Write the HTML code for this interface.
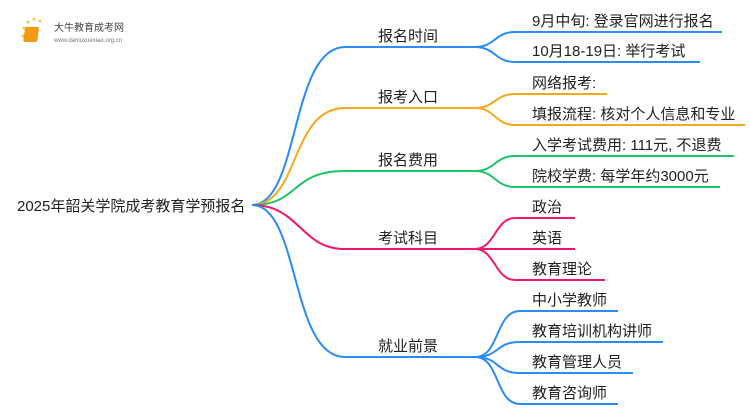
<!DOCTYPE html>
<html><head><meta charset="utf-8"><style>
html,body{margin:0;padding:0;background:#fff;width:750px;height:410px;overflow:hidden}
svg text{font-family:"Liberation Sans","Noto Sans CJK SC",sans-serif;font-size:15px;fill:#222}
</style></head><body>
<svg width="750" height="410" viewBox="0 0 750 410" xmlns="http://www.w3.org/2000/svg">
<g fill="none" stroke-width="2">
<g stroke="#2a8cf5">
<path d="M252 205 C300 205 290 47 345 47 L475 47"/>
<path d="M475 47 C495 47 495 32 515 32 L722 32"/>
<path d="M475 47 C495 47 495 62 515 62 L700 62"/>
</g>
<g stroke="#f5a81c">
<path d="M252 205 C300 205 290 108 345 108 L475 108"/>
<path d="M475 108 C495 108 495 94 515 94 L607 94"/>
<path d="M475 108 C495 108 495 125 515 125 L745 125"/>
</g>
<g stroke="#1dc46a">
<path d="M252 205 C300 205 290 171 345 171 L475 171"/>
<path d="M475 171 C495 171 495 156 515 156 L734 156"/>
<path d="M475 171 C495 171 495 187 515 187 L720 187"/>
</g>
<g stroke="#f0186e">
<path d="M252 205 C300 205 300 249 345 249 L475 249"/>
<path d="M475 249 C495 249 495 218 515 218 L575 218"/>
<path d="M475 249 L575 249"/>
<path d="M475 249 C495 249 495 280 515 280 L605 280"/>
</g>
<g stroke="#2a8cf5">
<path d="M252 205 C300 205 290 357 345 357 L475 357"/>
<path d="M475 357 C500 357 495 311 520 311 L618 311"/>
<path d="M475 357 C500 357 495 342 520 342 L663 342"/>
<path d="M475 357 C500 357 495 373 520 373 L633 373"/>
<path d="M475 357 C500 357 495 404 520 404 L618 404"/>
</g>
</g>
<text x="17" y="211">2025年韶关学院成考教育学预报名</text>
<text x="378" y="41">报名时间</text>
<text x="378" y="102">报考入口</text>
<text x="378" y="165">报名费用</text>
<text x="378" y="243">考试科目</text>
<text x="378" y="351">就业前景</text>
<text x="532" y="26">9月中旬: 登录官网进行报名</text>
<text x="532" y="56">10月18-19日: 举行考试</text>
<text x="532" y="88">网络报考:</text>
<text x="532" y="119">填报流程: 核对个人信息和专业</text>
<text x="532" y="150">入学考试费用: 111元, 不退费</text>
<text x="532" y="181">院校学费: 每学年约3000元</text>
<text x="532" y="212">政治</text>
<text x="532" y="243">英语</text>
<text x="532" y="274">教育理论</text>
<text x="532" y="305">中小学教师</text>
<text x="532" y="336">教育培训机构讲师</text>
<text x="532" y="367">教育管理人员</text>
<text x="532" y="398">教育咨询师</text>
<g>
<circle cx="24" cy="28" r="1.5" fill="#f7c84a"/><circle cx="28" cy="22" r="1.5" fill="#f7c84a"/><circle cx="34" cy="19" r="1.5" fill="#f7c84a"/><circle cx="40" cy="21" r="1.5" fill="#f7c84a"/><circle cx="23" cy="36" r="1.5" fill="#f7c84a"/>
<rect x="29" y="27" width="14" height="15" rx="2" fill="#f39a12" transform="skewX(-8)"/>
<text x="54" y="31" style="font-size:10px;fill:#444">大牛教育成考网</text>
<text x="54" y="42" style="font-size:6px;fill:#777">www.daniuxuexiao.org.cn</text>
</g>
</svg>
</body></html>
